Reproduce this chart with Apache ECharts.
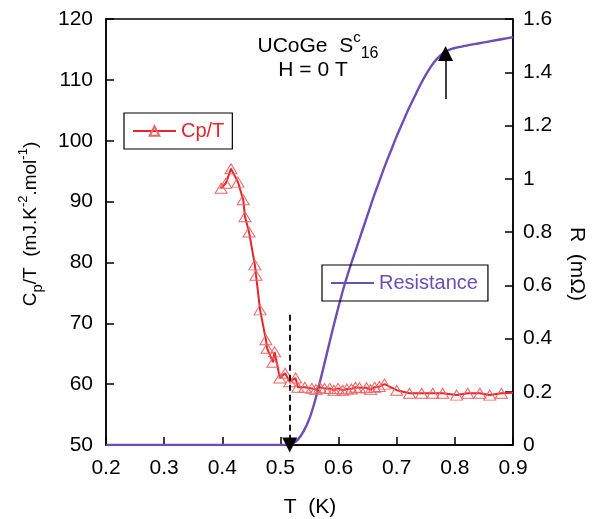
<!DOCTYPE html>
<html><head><meta charset="utf-8">
<script src="https://cdn.jsdelivr.net/npm/echarts@6/dist/echarts.min.js"></script>
<style>html,body{margin:0;padding:0;background:#fff}#c{width:594px;height:519px}</style>
</head><body><div id="c"></div>
<script>
// ---- data ----
const xTicks = [0.2, 0.3, 0.4, 0.5, 0.6, 0.7, 0.8, 0.9];
const cpT = [0.398,0.406,0.415,0.427,0.436,0.439,0.446,0.456,0.458,0.465,0.475,0.477,0.487,0.490,0.499,0.508,0.516,0.526,0.530,0.542,0.554,0.561,0.568,0.576,0.585,0.592,0.599,0.607,0.614,0.622,0.629,0.636,0.648,0.655,0.662,0.670,0.679,0.700,0.722,0.743,0.762,0.779,0.803,0.822,0.843,0.860,0.880];
const cpVal = [92.2,93.0,95.4,93.2,90.3,87.5,85.0,79.6,77.9,72.2,67.3,65.9,63.6,65.3,61.0,61.8,60.4,61.0,59.5,59.5,59.3,59.1,59.5,59.3,59.3,59.0,59.3,59.0,59.2,59.2,59.5,59.4,59.4,59.1,59.5,59.6,60.0,59.0,58.5,58.5,58.5,58.5,58.2,58.5,58.5,58.2,58.5];
const cpEnd = [0.9, 58.6];
const rT = [0.20,0.25,0.30,0.35,0.40,0.45,0.50,0.515,0.52,0.53,0.54,0.55,0.56,0.57,0.58,0.59,0.60,0.61,0.62,0.63,0.64,0.65,0.66,0.67,0.68,0.69,0.70,0.71,0.72,0.73,0.74,0.75,0.76,0.77,0.78,0.79,0.80,0.82,0.84,0.86,0.88,0.90];
const rVal = [0,0,0,0,0,0,0,0,0.004,0.02,0.052,0.10,0.17,0.255,0.345,0.435,0.52,0.60,0.67,0.735,0.80,0.865,0.93,0.99,1.05,1.105,1.16,1.21,1.26,1.305,1.35,1.39,1.425,1.452,1.472,1.484,1.491,1.50,1.508,1.516,1.524,1.532];
const dashArrow = {T: 0.516, from: 71.4, to: 50};
const solidArrow = {T: 0.784, from: 1.30, to: 1.47};

const FONT = "'Liberation Sans', Arial, sans-serif";
const RED = '#e3262d';
const TRI = '#f06464';
const PURPLE = '#6a4fb4';

const cpData = cpT.map((t, i) => [t, cpVal[i]]);
cpData.push({value: cpEnd, symbol: 'none'});
const rData = rT.map((t, i) => [t, rVal[i]]);

const chart = echarts.init(document.getElementById('c'), null, {renderer: 'canvas'});
const axisCommon = {
  axisLine: {show: true, lineStyle: {color: '#000', width: 1.5}},
  axisTick: {show: true, inside: true, length: 8, lineStyle: {color: '#000', width: 1.5}},
  splitLine: {show: false}
};
chart.setOption({
  animation: false,
  grid: {left: 106, right: 81, top: 19, bottom: 74, show: true, borderColor: '#000', borderWidth: 1.5, backgroundColor: 'transparent'},
  xAxis: Object.assign({type: 'value', min: 0.2, max: 0.9, interval: 0.1}, axisCommon, {
    axisLabel: {color: '#000', fontSize: 21, fontFamily: FONT, margin: 13, formatter: v => v.toFixed(1)}
  }),
  yAxis: [
    Object.assign({type: 'value', min: 50, max: 120, interval: 10, position: 'left'}, axisCommon, {
      axisLabel: {color: '#000', fontSize: 21, fontFamily: FONT, margin: 13}
    }),
    Object.assign({type: 'value', min: 0, max: 1.6, interval: 0.2, position: 'right'}, axisCommon, {
      axisLabel: {color: '#000', fontSize: 21, fontFamily: FONT, margin: 10, formatter: v => String(+v.toFixed(1))}
    })
  ],
  legend: [
    {data: ['Cp/T'], left: 124, top: 113, orient: 'horizontal', borderColor: '#000', borderWidth: 1.2,
     padding: [8, 8, 8, 8], itemWidth: 43, itemHeight: 12, itemGap: 4,
     textStyle: {color: RED, fontSize: 20, fontFamily: FONT}},
    {data: ['Resistance'], left: 322, top: 265, orient: 'horizontal', borderColor: '#000', borderWidth: 1.2,
     padding: [8, 10, 8, 8], itemWidth: 43, itemHeight: 12, itemGap: 4, itemStyle: {opacity: 0},
     textStyle: {color: PURPLE, fontSize: 20, fontFamily: FONT}}
  ],
  series: [
    {name: 'Resistance', type: 'line', yAxisIndex: 1, data: rData, showSymbol: false, symbol: 'none',
     lineStyle: {color: PURPLE, width: 2.4}, itemStyle: {color: PURPLE}, smooth: 0.3, z: 2,
     markLine: {silent: true, symbol: ['none', 'triangle'], symbolSize: 15, label: {show: false},
       lineStyle: {color: '#000', width: 1.5, type: 'solid'}, itemStyle: {color: '#000'},
       data: [[{coord: [solidArrow.T, solidArrow.from]}, {coord: [solidArrow.T, solidArrow.to]}]]}},
    {name: 'Cp/T', type: 'line', yAxisIndex: 0, data: cpData, symbol: 'triangle', symbolSize: [12, 10], showAllSymbol: true,
     lineStyle: {color: RED, width: 2}, itemStyle: {color: 'rgba(255,255,255,0)', borderColor: TRI, borderWidth: 1}, z: 3,
     markLine: {silent: true, symbol: ['none', 'triangle'], symbolSize: 15, label: {show: false},
       lineStyle: {color: '#000', width: 1.8, type: [6, 4]}, itemStyle: {color: '#000'},
       data: [[{coord: [dashArrow.T, dashArrow.from]}, {coord: [dashArrow.T, dashArrow.to]}]]}}
  ],
  graphic: [
    {type: 'text', x: 318, y: 46, style: {text: '{a|UCoGe  S}{sup|c}{sub|16}', align: 'center', verticalAlign: 'middle',
      rich: {a: {fontSize: 21, fontFamily: FONT, color: '#000', lineHeight: 32},
             sup: {fontSize: 15, fontFamily: FONT, color: '#000', verticalAlign: 'top', lineHeight: 14},
             sub: {fontSize: 16, fontFamily: FONT, color: '#000', verticalAlign: 'bottom', lineHeight: 14}}}},
    {type: 'text', x: 313, y: 70, style: {text: 'H = 0 T', align: 'center', verticalAlign: 'middle', fontSize: 21, fontFamily: FONT, fill: '#000'}},
    {type: 'text', x: 310, y: 507, style: {text: 'T  (K)', align: 'center', verticalAlign: 'middle', fontSize: 21, fontFamily: FONT, fill: '#000'}},
    {type: 'text', x: 577, y: 264, rotation: -Math.PI / 2, style: {text: 'R  (mΩ)', align: 'center', verticalAlign: 'middle', fontSize: 21, fontFamily: FONT, fill: '#000'}},
    {type: 'text', x: 31, y: 224, rotation: Math.PI / 2, style: {text: '{a|C}{sub|p}{a|/T  (mJ.K}{sup|-2}{a|.mol}{sup|-1}{a|)}', align: 'center', verticalAlign: 'middle',
      rich: {a: {fontSize: 19, fontFamily: FONT, color: '#000', lineHeight: 28},
             sup: {fontSize: 13, fontFamily: FONT, color: '#000', verticalAlign: 'top', lineHeight: 14},
             sub: {fontSize: 15, fontFamily: FONT, color: '#000', verticalAlign: 'bottom', lineHeight: 18}}}}
  ]
});
</script></body></html>
